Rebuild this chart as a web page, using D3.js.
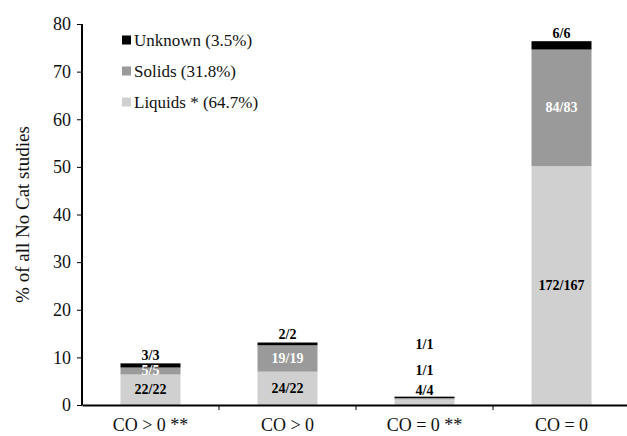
<!DOCTYPE html>
<html>
<head>
<meta charset="utf-8">
<script src="https://cdn.jsdelivr.net/npm/d3@7"></script>
<style>
  html, body { margin: 0; padding: 0; background: #fff; }
  svg { display: block; font-family: "Liberation Serif", "Times New Roman", serif; }
</style>
</head>
<body>
<div id="chart"></div>
<script>
// Share of all "No Cat" studies by CO outcome and feed type (percent of 343 studies)
const categories = ["CO > 0 **", "CO > 0", "CO = 0 **", "CO = 0"];
const liquids = [6.41, 7.00, 1.17, 50.15];
const solids  = [1.46, 5.54, 0.29, 24.49];
const unknown = [0.87, 0.58, 0.29, 1.75];

const liquidLabels  = ["22/22", "24/22", "4/4", "172/167"];
const solidLabels   = ["5/5", "19/19", "1/1", "84/83"];
const unknownLabels = ["3/3", "2/2", "1/1", "6/6"];

const legendNames = ["Unknown (3.5%)", "Solids (31.8%)", "Liquids * (64.7%)"];
const yTicks = [0, 10, 20, 30, 40, 50, 60, 70, 80];

const W = 627, H = 436;
const margin = { left: 82, right: -3, top: 24, bottom: 31 };

const svg = d3.select("#chart").append("svg")
  .attr("width", W).attr("height", H);

const x = d3.scaleBand()
  .domain(categories)
  .range([margin.left, W - margin.right])
  .paddingInner(0).paddingOuter(0);

const y = d3.scaleLinear()
  .domain([0, 80])
  .range([H - margin.bottom, margin.top]);

const series = [
  { key: "liquids", values: liquids, color: "#d0d0d0", labels: liquidLabels, textColor: "#000" },
  { key: "solids", values: solids, color: "#9a9a9a", labels: solidLabels, textColor: "#fff" },
  { key: "unknown", values: unknown, color: "#000", labels: unknownLabels, textColor: "#000" }
];

const rows = categories.map((c, i) => ({
  cat: c, liquids: liquids[i], solids: solids[i], unknown: unknown[i]
}));
const stacked = d3.stack().keys(series.map(s => s.key))(rows);

const barW = 60;

// bars
stacked.forEach((layer, li) => {
  svg.append("g").selectAll("rect")
    .data(layer)
    .join("rect")
    .attr("x", d => x(d.data.cat) + (x.bandwidth() - barW) / 2)
    .attr("width", barW)
    .attr("y", d => y(d[1]))
    .attr("height", d => y(d[0]) - y(d[1]))
    .attr("fill", series[li].color);
});

// y axis
const yAxis = svg.append("g")
  .attr("transform", `translate(${margin.left},0)`)
  .call(d3.axisLeft(y).tickValues(yTicks).tickSize(5).tickPadding(6).tickFormat(d3.format("d")));
yAxis.select(".domain").attr("stroke", "#000").attr("stroke-width", 2).attr("d", `M0,${y(80)}V${y(0)}`);
yAxis.selectAll(".tick line").attr("stroke", "#000").attr("stroke-width", 1);
yAxis.selectAll(".tick text")
  .attr("font-family", "Liberation Serif, serif").attr("font-size", 18).attr("fill", "#111");

// x axis
const xAxis = svg.append("g")
  .attr("transform", `translate(0,${y(0)})`)
  .call(d3.axisBottom(x).tickSize(0).tickPadding(13));
xAxis.select(".domain").attr("stroke", "#000").attr("stroke-width", 2);
xAxis.selectAll(".tick text")
  .attr("font-family", "Liberation Serif, serif").attr("font-size", 18).attr("fill", "#111");

// tick marks between categories
svg.append("g").selectAll("line")
  .data(categories.slice(1))
  .join("line")
  .attr("x1", d => x(d)).attr("x2", d => x(d))
  .attr("y1", y(0)).attr("y2", y(0) + 5)
  .attr("stroke", "#000").attr("stroke-width", 1);

// y axis title
svg.append("text")
  .attr("transform", `translate(25,${(y(0) + y(80)) / 2}) rotate(-90)`)
  .attr("text-anchor", "middle")
  .attr("dominant-baseline", "middle")
  .attr("font-size", 19).attr("fill", "#111")
  .text("% of all No Cat studies");

// value labels
const labelG = svg.append("g")
  .attr("font-weight", "bold").attr("font-size", 14)
  .attr("text-anchor", "middle").attr("dominant-baseline", "central");

categories.forEach((c, i) => {
  const cx = x(c) + x.bandwidth() / 2;
  const top = y(liquids[i] + solids[i] + unknown[i]);
  const small = y(0) - top < 12;
  series.forEach((s, si) => {
    const seg = stacked[si][i];
    let ly;
    if (small) {
      // too short for inner labels: stack them above the bar
      ly = top - [6, 26, 52][si];
    } else if (s.key === "unknown") {
      ly = top - 8;
    } else {
      ly = (y(seg[0]) + y(seg[1])) / 2;
    }
    labelG.append("text")
      .attr("x", cx).attr("y", ly)
      .attr("fill", small ? "#000" : s.textColor)
      .text(s.labels[i]);
  });
});

// legend
const legendColors = ["#000", "#9a9a9a", "#d0d0d0"];
const legend = svg.append("g").attr("transform", "translate(122,40)");
legendNames.forEach((name, i) => {
  const g = legend.append("g").attr("transform", `translate(0,${i * 31})`);
  g.append("rect").attr("x", 0).attr("y", -4.5).attr("width", 9).attr("height", 9)
    .attr("fill", legendColors[i]);
  g.append("text").attr("x", 12).attr("y", 0)
    .attr("dominant-baseline", "central")
    .attr("font-size", 17).attr("fill", "#111")
    .text(name);
});
</script>
</body>
</html>
